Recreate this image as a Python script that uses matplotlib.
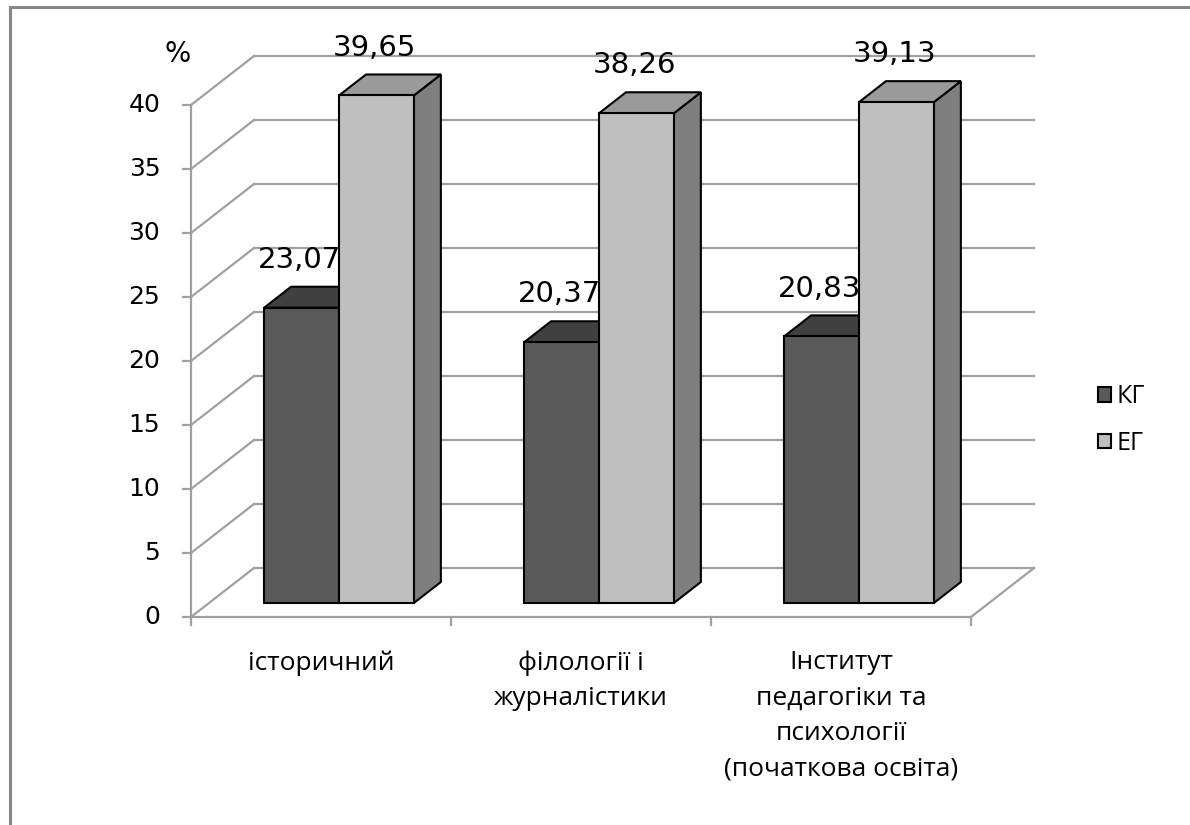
import matplotlib.pyplot as plt
from matplotlib.patches import Polygon, Patch
from matplotlib.lines import Line2D

categories = ['історичний',
              'філології і\nжурналістики',
              'Інститут\nпедагогіки та\nпсихології\n(початкова освіта)']
kg = [23.07, 20.37, 20.83]
eg = [39.65, 38.26, 39.13]
series_names = ['КГ', 'ЕГ']
y_ticks = list(range(0, 45, 5))

plt.rcParams['font.family'] = ['DejaVu Sans']

W, H = 1190, 825
fig = plt.figure(figsize=(W / 100, H / 100), dpi=100)
ax = fig.add_axes([0, 0, 1, 1])
ax.set_axis_off()

# one category = 260 px, one percent = 12.8 px, origin of the front axis at (191, 617)
cat_px, unit_px = 260.0, 12.8
ox, oy = 191.0, 617.0
ax.set_xlim(-ox / cat_px, (W - ox) / cat_px)
ax.set_ylim((oy - H) / unit_px, oy / unit_px)

# oblique depth of the floor, and where the bars sit inside it
ddx, ddy = 63 / cat_px, 49 / unit_px
f0, f1 = 0.286, 0.714
bar_w = 0.288
ncat = len(categories)
ymax = y_ticks[-1]

grid_col = '#a0a0a0'
glw = 1.6

# walls and floor
for v in y_ticks:
    ax.plot([0, ddx], [v, v + ddy], color=grid_col, lw=glw, zorder=1)
    ax.plot([ddx, ncat + ddx], [v + ddy, v + ddy], color=grid_col, lw=glw, zorder=1)
    ax.plot([-0.03, 0], [v, v], color=grid_col, lw=glw, zorder=1)
    ax.text(-0.118, v, str(v), ha='right', va='center', fontsize=18, zorder=1)
ax.plot([0, ncat], [0, 0], color=grid_col, lw=glw, zorder=1)
ax.plot([ncat, ncat + ddx], [0, ddy], color=grid_col, lw=glw, zorder=1)
ax.plot([0, 0], [0, ymax], color=grid_col, lw=glw, zorder=1)
for i in range(ncat + 1):
    ax.plot([i, i], [0, -0.65], color=grid_col, lw=glw, zorder=1)

ax.text(-0.05, 44.0, '%', ha='center', va='center', fontsize=20)

front_cols = ['#595959', '#bfbfbf']
top_cols = ['#404040', '#9a9a9a']
side_cols = ['#3a3a3a', '#7f7f7f']
edge_kw = dict(edgecolor='black', lw=1.5, joinstyle='miter')


def draw_bar(x0, v, k):
    # front, top and right faces of one box
    bx, by = x0 + f0 * ddx, f0 * ddy
    sx, sy = (f1 - f0) * ddx, (f1 - f0) * ddy
    front = [(bx, by), (bx + bar_w, by), (bx + bar_w, by + v), (bx, by + v)]
    top = [(bx, by + v), (bx + bar_w, by + v),
           (bx + bar_w + sx, by + v + sy), (bx + sx, by + v + sy)]
    side = [(bx + bar_w, by), (bx + bar_w + sx, by + sy),
            (bx + bar_w + sx, by + v + sy), (bx + bar_w, by + v)]
    z = 3 + k
    ax.add_patch(Polygon(side, closed=True, facecolor=side_cols[k], zorder=z, **edge_kw))
    ax.add_patch(Polygon(top, closed=True, facecolor=top_cols[k], zorder=z, **edge_kw))
    ax.add_patch(Polygon(front, closed=True, facecolor=front_cols[k], zorder=z, **edge_kw))
    lx = bx + bar_w / 2 + sx / 2 - 0.06
    ax.text(lx, v + f1 * ddy + 1.0, f'{v:.2f}'.replace('.', ','),
            ha='center', va='bottom', fontsize=21, zorder=2)


for i, (a, b) in enumerate(zip(kg, eg)):
    left = i + 0.5 - bar_w
    draw_bar(left, a, 0)
    draw_bar(left + bar_w, b, 1)
    ax.text(i + 0.5, -2.6, categories[i], ha='center', va='top',
            fontsize=19, linespacing=1.55, family=['Open Sans', 'DejaVu Sans'])

handles = [Patch(facecolor=front_cols[k], edgecolor='black', lw=1.5)
           for k in range(2)]
fig.legend(handles, series_names, loc='center left',
           bbox_to_anchor=(1088 / W, 1 - 420 / H), frameon=False,
           prop={'family': ['Open Sans', 'DejaVu Sans'], 'size': 18},
           handlelength=0.5, handleheight=0.5, handletextpad=0.25,
           labelspacing=0.85, borderaxespad=0)

# chart frame (its right and bottom edges fall outside the image)
fig.add_artist(Line2D([9.5 / W, 9.5 / W], [0, 1 - 6.5 / H],
                      transform=fig.transFigure, color='#878787', lw=2.2))
fig.add_artist(Line2D([9.5 / W, 1], [1 - 6.5 / H, 1 - 6.5 / H],
                      transform=fig.transFigure, color='#878787', lw=2.2))

fig.savefig('out.png', dpi=100)
